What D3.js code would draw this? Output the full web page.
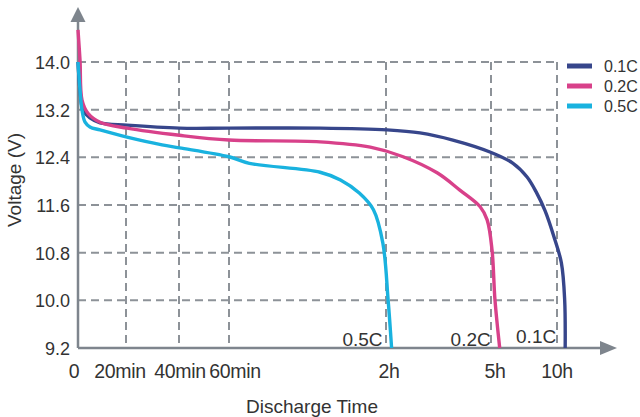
<head>
    <meta charset="utf-8">
    <style>
        body { margin: 0; background: #ffffff; }
        text { font-family: "Liberation Sans", Arial, sans-serif; fill: #333333; }
    </style>
    <script src="https://d3js.org/d3.v7.min.js"></script>
</head>
<body>
    <div id="chart"></div>
    <script>
        // ticks
        const timeTicks = [0, 1/3, 2/3, 1, 2, 5, 10];
        const timeLabels = ["0", "20min", "40min", "60min", "2h", "5h", "10h"];
        const voltTicks = [9.2, 10.0, 10.8, 11.6, 12.4, 13.2, 14.0];

        // series: [hours, volts]
        const seriesNames = ["0.1C", "0.2C", "0.5C"];
        const curve01 = [[0, 14.0], [0.014, 13.53], [0.035, 13.19], [0.083, 13.06], [0.153, 12.98],
            [0.34, 12.94], [0.67, 12.89], [1.0, 12.89], [1.58, 12.89], [2.03, 12.86], [2.97, 12.81],
            [3.91, 12.69], [4.97, 12.49], [6.67, 12.30], [7.73, 12.07], [8.42, 11.82], [9.1, 11.50],
            [9.75, 11.08], [10.33, 10.63], [10.58, 10.01], [10.62, 9.2]];
        const curve02 = [[0, 14.54], [0.014, 14.03], [0.028, 13.36], [0.069, 13.14], [0.153, 12.99],
            [0.34, 12.89], [0.67, 12.77], [1.0, 12.69], [1.58, 12.66], [1.90, 12.57], [2.49, 12.41],
            [3.46, 12.14], [4.11, 11.85], [4.69, 11.57], [4.89, 11.35], [5.08, 10.84], [5.30, 10.01],
            [5.66, 9.2]];
        const curve05 = [[0, 14.0], [0.014, 13.53], [0.028, 13.19], [0.049, 12.99], [0.083, 12.91],
            [0.153, 12.86], [0.34, 12.74], [0.56, 12.61], [0.67, 12.56], [1.0, 12.41], [1.13, 12.30],
            [1.58, 12.15], [1.71, 12.02], [1.83, 11.80], [1.92, 11.52], [1.98, 10.96], [2.06, 10.01],
            [2.16, 9.2]];
        const seriesColors = ["#37468b", "#d8418a", "#19b2df"];

        const width = 640, height = 417;
        const x0 = 78, y0 = 348;

        const svg = d3.select("#chart").append("svg")
            .attr("width", width)
            .attr("height", height);

        // time axis is stretched piece by piece, like the printed chart
        const x = d3.scaleLinear()
            .domain(timeTicks)
            .range([x0, 126, 179, 229, 386, 491, 557]);
        const y = d3.scaleLinear()
            .domain([9.2, 14.0])
            .range([y0, 62]);

        const gridColor = "#8d9298";

        // horizontal grid
        svg.append("g").selectAll("line")
            .data(voltTicks.slice(1))
            .enter().append("line")
            .attr("x1", x0).attr("x2", x(10))
            .attr("y1", d => y(d)).attr("y2", d => y(d))
            .attr("stroke", gridColor)
            .attr("stroke-width", 2)
            .attr("stroke-dasharray", "8,5");

        // vertical grid
        svg.append("g").selectAll("line")
            .data(timeTicks.slice(1))
            .enter().append("line")
            .attr("x1", d => x(d)).attr("x2", d => x(d))
            .attr("y1", y(14.0)).attr("y2", y0)
            .attr("stroke", gridColor)
            .attr("stroke-width", 2)
            .attr("stroke-dasharray", "8,5");

        // axes with arrows
        const axisColor = "#7e858d";
        svg.append("line")
            .attr("x1", x0).attr("x2", x0).attr("y1", y0).attr("y2", 18)
            .attr("stroke", axisColor).attr("stroke-width", 2.5);
        svg.append("line")
            .attr("x1", x0).attr("x2", 606).attr("y1", y0).attr("y2", y0)
            .attr("stroke", axisColor).attr("stroke-width", 2.5);
        svg.append("path")
            .attr("d", `M${x0},7 L${x0 - 7.5},22 L${x0 + 7.5},22 Z`)
            .attr("fill", axisColor);
        svg.append("path")
            .attr("d", `M617,${y0} L600,${y0 - 7} L600,${y0 + 7} Z`)
            .attr("fill", axisColor);

        // tick labels
        svg.append("g").selectAll("text")
            .data(voltTicks)
            .enter().append("text")
            .attr("x", 70)
            .attr("y", d => y(d) + 7)
            .attr("text-anchor", "end")
            .style("font-size", "18px")
            .text(d => d.toFixed(1));

        // the printed labels sit a little off their grid lines
        const labelNudge = [-4, -6, 1, 6, 3, 4, 0];
        svg.append("g").selectAll("text")
            .data(timeTicks)
            .enter().append("text")
            .attr("x", (d, i) => x(d) + labelNudge[i])
            .attr("y", 378)
            .attr("text-anchor", "middle")
            .style("font-size", "19.5px")
            .style("letter-spacing", "-0.3px")
            .text((d, i) => timeLabels[i]);

        // axis titles
        svg.append("text")
            .attr("transform", "translate(21,180) rotate(-90)")
            .attr("text-anchor", "middle")
            .style("font-size", "19px")
            .text("Voltage (V)");
        svg.append("text")
            .attr("x", 312)
            .attr("y", 413)
            .attr("text-anchor", "middle")
            .style("font-size", "19px")
            .text("Discharge Time");

        // curves
        const line = d3.line()
            .x(d => x(d[0]))
            .y(d => y(d[1]))
            .curve(d3.curveCatmullRom.alpha(0.5));

        const curves = [curve01, curve02, curve05];
        svg.append("g").selectAll("path")
            .data(curves)
            .enter().append("path")
            .attr("d", line)
            .attr("fill", "none")
            .attr("stroke", (d, i) => seriesColors[i])
            .attr("stroke-width", 3.4)
            .attr("stroke-linejoin", "round");

        // labels at the end of each curve
        svg.append("g").selectAll("text")
            .data(curves)
            .enter().append("text")
            .attr("x", d => x(d[d.length - 1][0]) - 9)
            .attr("y", (d, i) => i === 0 ? 343 : 346)
            .attr("text-anchor", "end")
            .style("font-size", "19px")
            .text((d, i) => seriesNames[i]);

        // legend
        const legend = svg.append("g").selectAll("g")
            .data(seriesNames)
            .enter().append("g")
            .attr("transform", (d, i) => `translate(567,${66 + i * 20})`);
        legend.append("line")
            .attr("x1", 0).attr("x2", 25)
            .attr("stroke", (d, i) => seriesColors[i])
            .attr("stroke-width", 5);
        legend.append("text")
            .attr("x", 37)
            .attr("y", 6)
            .style("font-size", "16px")
            .text(d => d);
    </script>
</body>
